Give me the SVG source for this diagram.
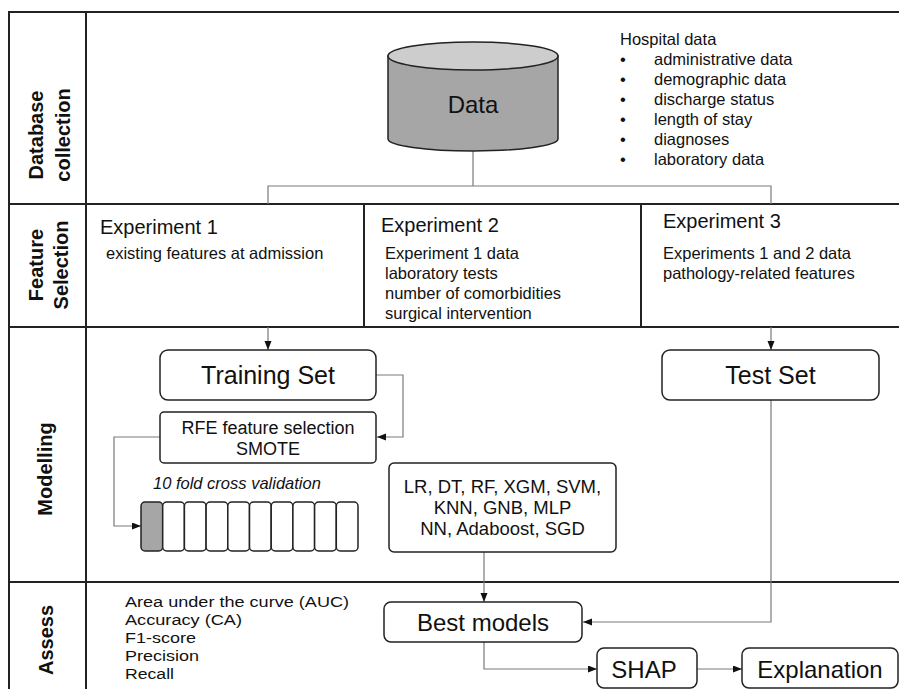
<svg xmlns="http://www.w3.org/2000/svg" width="899" height="689" viewBox="0 0 899 689">
<defs>
<marker id="arr" markerUnits="userSpaceOnUse" markerWidth="10" markerHeight="8" refX="9" refY="3.5" orient="auto">
<path d="M0,0 L9,3.5 L0,7 z" fill="#111"/>
</marker>
<style>
text{font-family:"Liberation Sans",Arial,sans-serif;fill:#111}
.frame{stroke:#222;stroke-width:2;fill:none}
.lab{font-weight:bold;font-size:20px;text-anchor:middle}
.box{fill:#fff;stroke:#222;stroke-width:1.5}
.con{fill:none;stroke:#7a7a7a;stroke-width:1.2}
.arr{marker-end:url(#arr)}
.t15{font-size:16.5px}
.t14{font-size:16.5px}
.exp{font-size:20px}
.big{font-size:25px;text-anchor:middle}
.mid{font-size:18px;text-anchor:middle}
.out{font-size:24px;text-anchor:middle}
.met{font-size:15.5px}
</style>
</defs>
<rect width="899" height="689" fill="#fff"/>
<g id="frame">
<path class="frame" d="M9,689 V12 H899 M86,12 V689 M9,204 H899 M9,327 H899 M9,582 H899 M364,204 V327 M641,204 V327"/>
</g>
<g id="row-labels">
<text class="lab" transform="translate(43,135) rotate(-90)">Database</text>
<text class="lab" transform="translate(70,135) rotate(-90)">collection</text>
<text class="lab" transform="translate(43,265) rotate(-90)">Feature</text>
<text class="lab" transform="translate(68,265) rotate(-90)">Selection</text>
<text class="lab" transform="translate(52,469) rotate(-90)">Modelling</text>
<text class="lab" transform="translate(53,640) rotate(-90)">Assess</text>
</g>
<g id="connectors">
<path class="con" d="M473,151 V186 M268,204 V186 H771 V204"/>
<path class="con arr" d="M268,327 V350"/>
<path class="con arr" d="M771,327 V350"/>
<path class="con arr" d="M376,375 H403 V437 H377"/>
<path class="con arr" d="M160,437 H114 V526 H141"/>
<path class="con arr" d="M484,552 V602"/>
<path class="con arr" d="M771,400 V622 H583"/>
<path class="con arr" d="M484,642 V669 H597"/>
<path class="con arr" d="M697,669 H742"/>
</g>
<g id="data">
<path d="M388,56 V139 A85,12 0 0 0 558,139 V56 Z" fill="#a6a6a6" stroke="#222" stroke-width="1.5"/>
<ellipse cx="473" cy="56" rx="85" ry="14" fill="#cdcdcd" stroke="#222" stroke-width="1.5"/>
<text x="473" y="113" style="font-size:24px;text-anchor:middle">Data</text>
</g>
<g id="hospital-data" class="t15">
<text x="620" y="45">Hospital data</text>
<text x="620" y="65">•</text><text x="654" y="65">administrative data</text>
<text x="620" y="85">•</text><text x="654" y="85">demographic data</text>
<text x="620" y="105">•</text><text x="654" y="105">discharge status</text>
<text x="620" y="125">•</text><text x="654" y="125">length of stay</text>
<text x="620" y="145">•</text><text x="654" y="145">diagnoses</text>
<text x="620" y="165">•</text><text x="654" y="165">laboratory data</text>
</g>
<g id="experiment-1">
<text class="exp" x="100" y="234">Experiment 1</text>
<text class="t14" x="106" y="259">existing features at admission</text>
</g>
<g id="experiment-2">
<text class="exp" x="381" y="232">Experiment 2</text>
<text class="t14" x="385" y="259">Experiment 1 data</text>
<text class="t14" x="385" y="279">laboratory tests</text>
<text class="t14" x="385" y="299">number of comorbidities</text>
<text class="t14" x="385" y="319">surgical intervention</text>
</g>
<g id="experiment-3">
<text class="exp" x="663" y="228">Experiment 3</text>
<text class="t14" x="663" y="259">Experiments 1 and 2 data</text>
<text class="t14" x="663" y="279">pathology-related features</text>
</g>
<g id="training-set">
<rect class="box" x="160" y="350" width="216" height="50" rx="8"/>
<text class="big" x="268" y="384">Training Set</text>
</g>
<g id="rfe">
<rect class="box" x="160" y="412" width="216" height="51" rx="4"/>
<text class="mid" x="268" y="434">RFE feature selection</text>
<text class="mid" x="268" y="455">SMOTE</text>
</g>
<g id="cross-validation">
<text x="153" y="489" style="font-size:16.5px;font-style:italic">10 fold cross validation</text>
<g stroke="#222" stroke-width="1.5" fill="#fff">
<rect x="141" y="502" width="21.7" height="49" rx="4" fill="#a6a6a6"/>
<rect x="162.7" y="502" width="21.7" height="49" rx="4"/>
<rect x="184.4" y="502" width="21.7" height="49" rx="4"/>
<rect x="206.1" y="502" width="21.7" height="49" rx="4"/>
<rect x="227.8" y="502" width="21.7" height="49" rx="4"/>
<rect x="249.5" y="502" width="21.7" height="49" rx="4"/>
<rect x="271.2" y="502" width="21.7" height="49" rx="4"/>
<rect x="292.9" y="502" width="21.7" height="49" rx="4"/>
<rect x="314.6" y="502" width="21.7" height="49" rx="4"/>
<rect x="336.3" y="502" width="21.7" height="49" rx="4"/>
</g>
</g>
<g id="models">
<rect class="box" x="389" y="463" width="227" height="89" rx="5"/>
<text class="mid" x="502.5" y="493" style="font-size:18.5px">LR, DT, RF, XGM, SVM,</text>
<text class="mid" x="502.5" y="514" style="font-size:18.5px">KNN, GNB, MLP</text>
<text class="mid" x="502.5" y="535" style="font-size:18.5px">NN, Adaboost, SGD</text>
</g>
<g id="test-set">
<rect class="box" x="662" y="350" width="217" height="50" rx="8"/>
<text class="big" x="770.5" y="384">Test Set</text>
</g>
<g id="metrics">
<text class="met" x="125" y="607" textLength="224" lengthAdjust="spacingAndGlyphs">Area under the curve (AUC)</text>
<text class="met" x="125" y="625" textLength="117" lengthAdjust="spacingAndGlyphs">Accuracy (CA)</text>
<text class="met" x="125" y="643" textLength="71" lengthAdjust="spacingAndGlyphs">F1-score</text>
<text class="met" x="125" y="661" textLength="74" lengthAdjust="spacingAndGlyphs">Precision</text>
<text class="met" x="125" y="679" textLength="49" lengthAdjust="spacingAndGlyphs">Recall</text>
</g>
<g id="best-models">
<rect class="box" x="384" y="602" width="198" height="40" rx="7"/>
<text class="out" x="483" y="631">Best models</text>
</g>
<g id="shap">
<rect class="box" x="597" y="648" width="100" height="40" rx="7"/>
<text class="out" x="644" y="678">SHAP</text>
</g>
<g id="explanation">
<rect class="box" x="742" y="648" width="156" height="40" rx="7"/>
<text class="out" x="820" y="678">Explanation</text>
</g>
</svg>
